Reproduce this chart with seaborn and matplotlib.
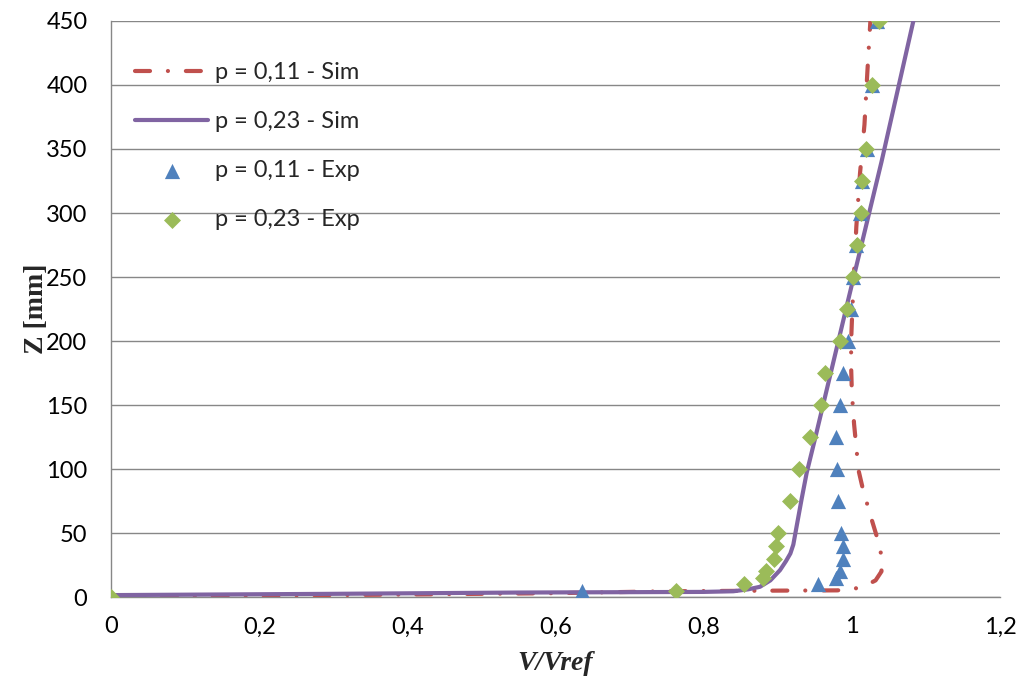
import numpy as np
import pandas as pd
import matplotlib
matplotlib.use("Agg")
import matplotlib.pyplot as plt
import seaborn as sns

# p = 0,11 - Sim (dash-dot line)
sim11_v = [0.0, 0.3, 0.6, 0.75, 0.9, 0.98, 1.0, 1.01, 1.02, 1.032, 1.04, 1.04, 1.038, 1.027,
           1.015, 1.009, 1.006, 1.003, 1.0, 0.999, 0.999, 1.0, 1.002, 1.006, 1.011, 1.017,
           1.021, 1.025]
sim11_z = [0.5, 1.5, 3.0, 4.5, 5.0, 5.2, 6.0, 7.5, 9.4, 13, 20, 30, 39, 60,
           84, 99, 117, 135, 160, 180, 200, 215, 242, 289, 331, 369,
           411, 450]

# p = 0,23 - Sim (solid line)
sim23_v = [0.0, 0.3, 0.55, 0.8, 0.84, 0.86, 0.876, 0.89, 0.903, 0.911, 0.917, 0.921,
           0.926, 0.932, 0.939, 0.950, 0.995, 1.04, 1.083]
sim23_z = [1.5, 2.5, 3.5, 4.0, 4.5, 6.0, 8.0, 13, 21, 28, 34, 41,
           57, 76, 97, 123, 232, 340, 450]

# p = 0,11 - Exp (triangles)
exp11_v = [0.0, 0.636, 0.954, 0.979, 0.984, 0.988, 0.988, 0.986, 0.981, 0.980, 0.978,
           0.984, 0.988, 0.995, 0.999, 1.001, 1.006, 1.011, 1.014, 1.020, 1.027, 1.034]
exp11_z = [0, 5, 10, 15, 20, 30, 40, 50, 75, 100, 125,
           150, 175, 200, 225, 250, 275, 300, 325, 350, 400, 450]

# p = 0,23 - Exp (diamonds)
exp23_v = [0.0, 0.762, 0.855, 0.880, 0.884, 0.895, 0.897, 0.900, 0.916, 0.928, 0.943,
           0.958, 0.964, 0.984, 0.993, 1.001, 1.007, 1.012, 1.014, 1.019, 1.027, 1.037]
exp23_z = [0, 5, 10, 15, 20, 30, 40, 50, 75, 100, 125,
           150, 175, 200, 225, 250, 275, 300, 325, 350, 400, 450]

labels = ["p = 0,11 - Sim", "p = 0,23 - Sim", "p = 0,11 - Exp", "p = 0,23 - Exp"]
x_ticks = [0, 0.2, 0.4, 0.6, 0.8, 1.0, 1.2]
x_ticklabels = ["0", "0,2", "0,4", "0,6", "0,8", "1", "1,2"]
y_ticks = list(range(0, 451, 50))

sns.set_style("white")
plt.rcParams["font.family"] = ["Lato", "DejaVu Sans"]
plt.rcParams["lines.dash_capstyle"] = "round"

fig = plt.figure(figsize=(10.24, 6.86), dpi=100)
ax = fig.add_axes([0.1084, 0.1297, 0.8682, 0.8397])

red = "#C0504D"
purple = "#8064A2"
blue = "#4F81BD"
green = "#9BBB59"

df11 = pd.DataFrame({"v": sim11_v, "z": sim11_z})
df23 = pd.DataFrame({"v": sim23_v, "z": sim23_z})
dfe11 = pd.DataFrame({"v": exp11_v, "z": exp11_z})
dfe23 = pd.DataFrame({"v": exp23_v, "z": exp23_z})

sns.lineplot(data=df11, x="v", y="z", sort=False, estimator=None, ax=ax, color=red,
             linewidth=3.0, linestyle=(0, (3.6, 4.3, 0.01, 4.3)), label=labels[0], zorder=3)
sns.lineplot(data=df23, x="v", y="z", sort=False, estimator=None, ax=ax, color=purple,
             linewidth=3.0, label=labels[1], zorder=4)
sns.scatterplot(data=dfe11, x="v", y="z", ax=ax, color=blue, marker="^", s=120,
                linewidth=0, label=labels[2], zorder=5)
sns.scatterplot(data=dfe23, x="v", y="z", ax=ax, color=green, marker="D", s=75,
                linewidth=0, label=labels[3], zorder=6)

ax.set_xlim(0, 1.2)
ax.set_ylim(0, 450)
ax.set_xticks(x_ticks)
ax.set_xticklabels(x_ticklabels)
ax.set_yticks(y_ticks)
ax.tick_params(axis="both", labelsize=17, length=0, colors="black")
ax.tick_params(axis="y", pad=17)
ax.tick_params(axis="x", pad=14)
ax.yaxis.grid(True, color="#878787", linewidth=1.0)
ax.xaxis.grid(False)
for side in ["top", "right"]:
    ax.spines[side].set_visible(False)
for side in ["left", "bottom"]:
    ax.spines[side].set_color("#878787")
    ax.spines[side].set_linewidth(1.0)

ax.set_xlabel("V/Vref", fontsize=20, fontweight="bold", fontstyle="italic",
              family="Liberation Serif", labelpad=10)
ax.set_ylabel("Z [mm]", fontsize=20, fontweight="bold", family="Liberation Serif",
              labelpad=-2)

leg = ax.legend(loc="upper left", bbox_to_anchor=(0.027, 0.928), frameon=False,
                fontsize=17, handlelength=3.1, labelspacing=1.18, handletextpad=0.3,
                borderpad=0, borderaxespad=0, scatterpoints=1)

fig.savefig("out.png", dpi=100)
